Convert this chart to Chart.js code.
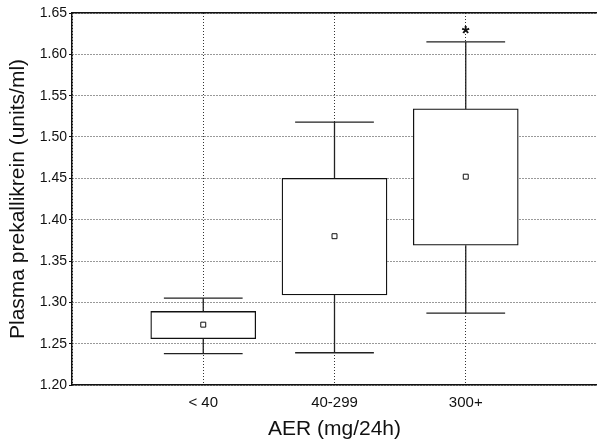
<!DOCTYPE html>
<html>
<head>
<meta charset="utf-8">
<script src="https://cdn.jsdelivr.net/npm/chart.js@4"></script>
<style>
  html, body { margin: 0; padding: 0; background: #fff; }
  #wrap { width: 597px; height: 445px; overflow: hidden; }
</style>
</head>
<body>
<div id="wrap"><canvas id="c" width="597" height="445"></canvas></div>
<script>
const categories   = ['< 40', '40-299', '300+'];
const whiskerLow   = [1.238, 1.239, 1.287];
const quartile1    = [1.256, 1.309, 1.369];
const quartile3    = [1.289, 1.450, 1.534];
const whiskerHigh  = [1.305, 1.518, 1.615];
const means        = [1.273, 1.380, 1.452];
const significance = ['', '', '*'];
const yMin = 1.20, yMax = 1.65, yStep = 0.05;

const CAP = 0.3;
const boxData = categories.map((c, i) => ({ x: i + 1, y: [quartile1[i], quartile3[i]] }));
const whiskerData = [];
categories.forEach((c, i) => {
  const x = i + 1;
  whiskerData.push({ x: x, y: quartile3[i] }, { x: x, y: whiskerHigh[i] }, { x: x, y: null });
  whiskerData.push({ x: x, y: quartile1[i] }, { x: x, y: whiskerLow[i] }, { x: x, y: null });
  whiskerData.push({ x: x - CAP, y: whiskerHigh[i] }, { x: x + CAP, y: whiskerHigh[i] }, { x: x, y: null });
  whiskerData.push({ x: x - CAP, y: whiskerLow[i] }, { x: x + CAP, y: whiskerLow[i] }, { x: x, y: null });
});
const meanData = categories.map((c, i) => ({ x: i + 1, y: means[i] }));

const FONT = '"Liberation Sans", Arial, sans-serif';
const X_MAX = categories.length + 1;

const starPlugin = {
  id: 'stars',
  afterDatasetsDraw(chart) {
    const ctx = chart.ctx, xs = chart.scales.x, ys = chart.scales.y;
    ctx.save();
    ctx.fillStyle = '#111';
    ctx.font = 'bold 20px ' + FONT;
    ctx.textAlign = 'center';
    ctx.textBaseline = 'middle';
    significance.forEach((s, i) => {
      if (!s) return;
      ctx.fillText(s, xs.getPixelForValue(i + 1), ys.getPixelForValue(whiskerHigh[i]) - 7);
    });
    ctx.restore();
  }
};

const noSidePad = (s) => { s.paddingLeft = 0; s.paddingRight = 0; };

new Chart(document.getElementById('c'), {
  type: 'bar',
  data: {
    datasets: [
      {
        type: 'bar', data: boxData, order: 3,
        backgroundColor: '#ffffff', borderColor: '#111', borderWidth: 1.3,
        borderSkipped: false, barThickness: 105
      },
      {
        type: 'line', data: whiskerData, order: 2,
        borderColor: '#222', borderWidth: 1.3, pointRadius: 0, spanGaps: false, fill: false
      },
      {
        type: 'scatter', data: meanData, order: 1,
        pointStyle: 'rect', pointRadius: 3.5, pointBackgroundColor: '#fff',
        pointBorderColor: '#111', pointBorderWidth: 1
      }
    ]
  },
  options: {
    responsive: false,
    animation: false,
    layout: { autoPadding: false, padding: { top: 13, right: -5, left: 0, bottom: 0 } },
    plugins: { legend: { display: false }, tooltip: { enabled: false } },
    scales: {
      x: {
        type: 'linear', min: 0, max: X_MAX, offset: false,
        ticks: {
          stepSize: 1, color: '#111', padding: 9,
          font: { family: FONT, size: 15 },
          callback: (v) => (v >= 1 && v <= categories.length && Number.isInteger(v)) ? categories[v - 1] : ''
        },
        grid: {
          offset: false, lineWidth: 1, tickLength: 0, drawTicks: false,
          color: (c) => (c.tick && c.tick.value === X_MAX) ? 'rgba(0,0,0,0)' : '#333'
        },
        border: { display: true, color: '#111', width: 1.5, dash: [1, 2] },
        title: {
          display: true, text: 'AER (mg/24h)', color: '#111',
          font: { family: FONT, size: 21 },
          padding: { top: 4, bottom: 3 }
        },
        afterFit: (s) => { s.height = 60; noSidePad(s); }
      },
      xTop: {
        type: 'linear', position: 'top', min: 0, max: X_MAX,
        ticks: { display: false }, grid: { display: false, drawTicks: false },
        border: { display: true, color: '#111', width: 1.5 },
        afterFit: (s) => { s.height = 0; noSidePad(s); }
      },
      y: {
        min: yMin, max: yMax,
        ticks: {
          stepSize: yStep, color: '#111', padding: 2,
          font: { family: FONT, size: 14 },
          callback: (v) => Number(v).toFixed(2)
        },
        grid: { color: '#333', lineWidth: 1, tickLength: 3, tickColor: '#111', tickBorderDash: [] },
        border: { display: true, color: '#111', width: 1.5, dash: [1, 2] },
        title: {
          display: true, text: 'Plasma prekallikrein (units/ml)', color: '#111',
          font: { family: FONT, size: 21 },
          padding: { top: 6, bottom: 2 }
        },
        afterFit: (s) => { s.width = 72; }
      }
    }
  },
  plugins: [starPlugin]
});
</script>
</body>
</html>
